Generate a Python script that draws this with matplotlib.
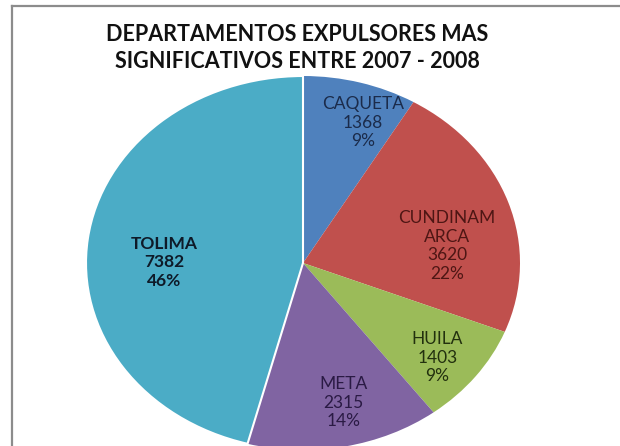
## PIE CHART: DEPARTAMENTOS EXPULSORES ##
import numpy as np
import matplotlib.pyplot as plt

## DATA ##
departamentos = ["CAQUETA", "CUNDINAM\nARCA", "HUILA", "META", "TOLIMA"]
personas = [1368, 3620, 1403, 2315, 7382]
porcentajes = ["9%", "22%", "9%", "14%", "46%"]

colores = ["#4F81BD", "#C0504D", "#9BBB59", "#8064A2", "#4BACC6"]
colores_texto = ["#1B2B4A", "#4E1614", "#22300E", "#2A1A44", "#0E1A28"]

## FIGURE ##
plt.rcParams['font.family'] = ['Lato', 'DejaVu Sans']
fig = plt.figure(figsize=(6.2, 4.46), dpi=100)

# pie is stretched a bit wider than tall, like the pasted Excel chart
ax = fig.add_axes([86/620, -4/446, 434/620, 374/446])
wedges, _ = ax.pie(personas, colors=colores, startangle=90, counterclock=False,
                   wedgeprops=dict(linewidth=0))
wedges[-1].set_edgecolor("white")
wedges[-1].set_linewidth(1.5)
ax.set_aspect('auto')
ax.set_xlim(-1, 1)
ax.set_ylim(-1, 1)

# label radius / angle tweak per wedge (where Excel put them)
lab_r = [0.80, 0.67, 0.80, 0.77, 0.64]
lab_da = [-5, -11, -2, 3, 7]
for i, w in enumerate(wedges):
    mid = np.deg2rad((w.theta1 + w.theta2) / 2 + lab_da[i])
    txt = departamentos[i] + "\n" + str(personas[i]) + "\n" + porcentajes[i]
    ax.text(lab_r[i] * np.cos(mid), lab_r[i] * np.sin(mid), txt,
            ha='center', va='center', fontsize=12.5, linespacing=1.2,
            color=colores_texto[i],
            fontweight='bold' if departamentos[i] == "TOLIMA" else 'normal')

## TITLE ##
fig.text(297/620, 1 - 48/446, "DEPARTAMENTOS EXPULSORES MAS\nSIGNIFICATIVOS ENTRE 2007 - 2008",
         ha='center', va='center', fontsize=15.5, fontweight='bold', linespacing=1.3,
         color="#111111")

## FRAME ##
fig.add_artist(plt.Line2D([12/620, 12/620], [0, 1 - 6/446], transform=fig.transFigure,
                          color="#8C8C8C", linewidth=1.6))
fig.add_artist(plt.Line2D([12/620, 1], [1 - 6/446, 1 - 6/446], transform=fig.transFigure,
                          color="#8C8C8C", linewidth=1.6))

fig.savefig("out.png", dpi=100)
